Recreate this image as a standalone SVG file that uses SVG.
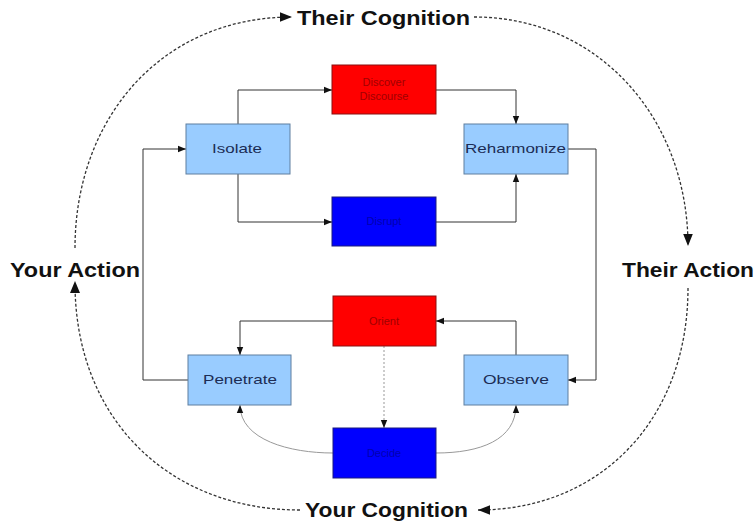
<svg xmlns="http://www.w3.org/2000/svg" width="756" height="525" viewBox="0 0 756 525">
<defs>
<marker id="ah" viewBox="0 0 10 10" refX="10" refY="5" markerWidth="8" markerHeight="8" markerUnits="userSpaceOnUse" orient="auto"><path d="M0,1 L10,5 L0,9 z" fill="#111"/></marker>
<marker id="big" viewBox="0 0 10 10" refX="10" refY="5" markerWidth="12" markerHeight="12" markerUnits="userSpaceOnUse" orient="auto"><path d="M0,1 L10,5 L0,9 z" fill="#111"/></marker>
<style>
.lb rect{fill:#99CCFF;stroke:#5f7f9f;stroke-width:1}
.rd rect{fill:#FF0000;stroke:#8a1010;stroke-width:1}
.bl rect{fill:#0000FF;stroke:#1a1a80;stroke-width:1}
.lb text{font-family:"Liberation Sans",Arial,sans-serif;font-size:13px;fill:#1c2c55}
.rd text{font-family:"Liberation Sans",Arial,sans-serif;font-size:11px;fill:#a00000;text-anchor:middle}
.bl text{font-family:"Liberation Sans",Arial,sans-serif;font-size:11px;fill:#0000b0;text-anchor:middle}
.c{fill:none;stroke:#333;stroke-width:1;marker-end:url(#ah)}
.g{fill:none;stroke:#999;stroke-width:1;marker-end:url(#ah)}
.d{fill:none;stroke:#333;stroke-width:1.3;stroke-dasharray:3 2;marker-end:url(#big)}
.dn{fill:none;stroke:#333;stroke-width:1.3;stroke-dasharray:3 2}
.t{font-family:"Liberation Sans",Arial,sans-serif;font-size:21px;font-weight:bold;fill:#111}
</style>
</defs>
<rect width="756" height="525" fill="#fff"/>
<g id="connectors">
<path class="c" d="M238,124 V90 H332"/>
<path class="c" d="M238,174 V222 H332"/>
<path class="c" d="M436,90 H516 V124"/>
<path class="c" d="M436,222 H516 V174"/>
<path class="c" d="M568,149 H596 V380 H568"/>
<path class="c" d="M516,355 V321 H436"/>
<path class="c" d="M333,321 H240 V355"/>
<path class="c" d="M188,380 H143 V149 H186"/>
<path class="g" d="M384,346 V428" stroke-dasharray="2 2"/>
<path class="g" d="M333,453 C290,453 240,440 240,405"/>
<path class="g" d="M436,453 C480,453 516,440 516,405"/>
<path class="d" d="M75,248 C75,120 160,17 292,17"/>
<path class="d" d="M474,17 C600,17 688,120 688,246"/>
<path class="d" d="M688,288 C688,420 600,510 478,510"/>
<path class="dn" d="M300,510 C170,510 75,420 75,283"/>
<path d="M70,293 L75,281 L80,293 z" fill="#111"/>
</g>
<g id="labels">
<text class="t" x="297" y="25" textLength="173" lengthAdjust="spacingAndGlyphs">Their Cognition</text>
<text class="t" x="622" y="277" textLength="132" lengthAdjust="spacingAndGlyphs">Their Action</text>
<text class="t" x="305" y="517" textLength="163" lengthAdjust="spacingAndGlyphs">Your Cognition</text>
<text class="t" x="10" y="277" textLength="130" lengthAdjust="spacingAndGlyphs">Your Action</text>
</g>
<g id="isolate" class="lb"><rect x="186" y="124" width="104" height="50"/><text x="212" y="153" textLength="50" lengthAdjust="spacingAndGlyphs">Isolate</text></g>
<g id="reharmonize" class="lb"><rect x="464" y="124" width="104" height="50"/><text x="465" y="153" textLength="101" lengthAdjust="spacingAndGlyphs">Reharmonize</text></g>
<g id="penetrate" class="lb"><rect x="188" y="355" width="103" height="50"/><text x="203" y="384" textLength="74" lengthAdjust="spacingAndGlyphs">Penetrate</text></g>
<g id="observe" class="lb"><rect x="464" y="355" width="104" height="50"/><text x="483" y="384" textLength="66" lengthAdjust="spacingAndGlyphs">Observe</text></g>
<g id="red-top" class="rd"><rect x="332" y="65" width="104" height="49"/><text x="384" y="86">Discover</text><text x="384" y="100">Discourse</text></g>
<g id="blue-top" class="bl"><rect x="332" y="197" width="104" height="49"/><text x="384" y="225">Disrupt</text></g>
<g id="red-low" class="rd"><rect x="333" y="296" width="103" height="50"/><text x="384" y="325">Orient</text></g>
<g id="blue-low" class="bl"><rect x="333" y="428" width="103" height="50"/><text x="384" y="457">Decide</text></g>
</svg>
